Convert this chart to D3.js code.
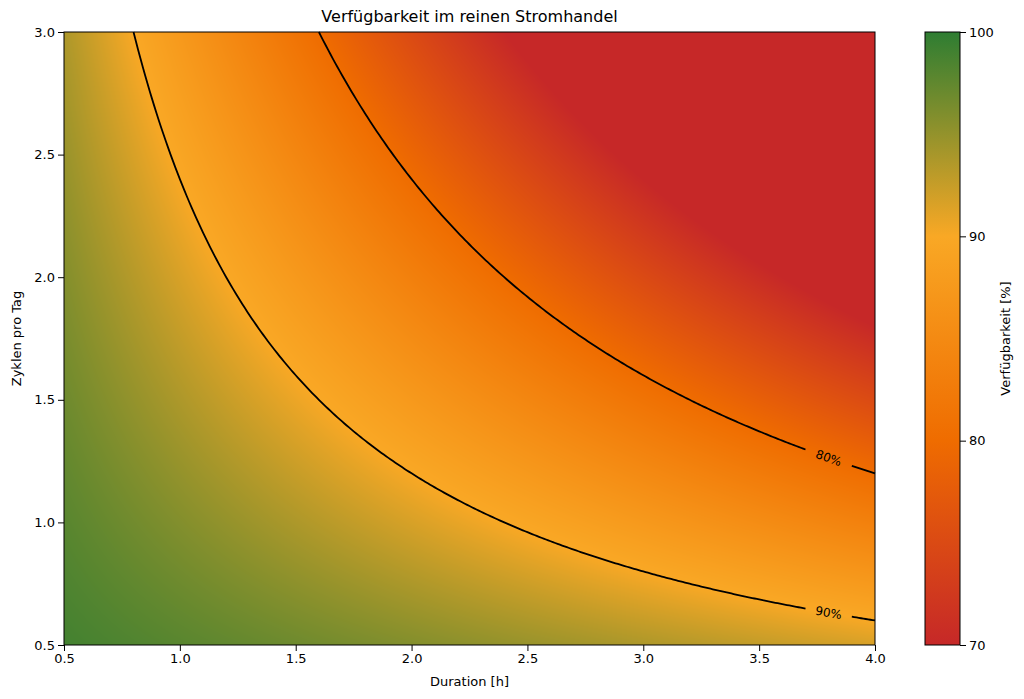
<!DOCTYPE html>
<html><head><meta charset="utf-8">
<script src="https://cdn.jsdelivr.net/npm/d3@7"></script>
<style>body{margin:0;background:#fff}text{font-family:"DejaVu Sans",sans-serif}</style>
</head><body><svg id="c" width="1024" height="699"></svg>
<script>
// values
var durationDomain = [0.5, 4.0];
var cyclesDomain = [0.5, 3.0];
var xTicks = [0.5,1.0,1.5,2.0,2.5,3.0,3.5,4.0];
var yTicks = [0.5,1.0,1.5,2.0,2.5,3.0];
var cbTicks = [70,80,90,100];
var colorStops = [70,80,90,100];
var colorValues = ["#c62828","#ef6c00","#f9a825","#2e7d32"];
var contourLevels = [90,80];
var contourLabelAt = [3.8,3.8];
// availability drops ~10 percentage points per 2.4 h·cycles
var lossPerHourCycle = 10/2.4;
function avail(d,c){ return 100 - lossPerHourCycle*d*c; }

var svg = d3.select("#c");
var m = {l:64, r:875, t:32, b:645};
var x = d3.scaleLinear().domain(durationDomain).range([m.l,m.r]);
var y = d3.scaleLinear().domain(cyclesDomain).range([m.b,m.t]);
var color = d3.scaleLinear().domain(colorStops).range(colorValues).clamp(true);

// heatmap
var W = m.r-m.l, H = m.b-m.t;
var cv = document.createElement("canvas"); cv.width=W; cv.height=H;
var ctx = cv.getContext("2d"), img = ctx.createImageData(W,H);
for (var j=0;j<H;j++) for (var i=0;i<W;i++){
  var col = d3.rgb(color(avail(x.invert(m.l+i+0.5), y.invert(m.t+j+0.5))));
  var k=(j*W+i)*4; img.data[k]=col.r; img.data[k+1]=col.g; img.data[k+2]=col.b; img.data[k+3]=255;
}
ctx.putImageData(img,0,0);
svg.append("image").attr("x",m.l).attr("y",m.t).attr("width",W).attr("height",H).attr("href",cv.toDataURL());

// contours
contourLevels.forEach(function(lv,n){
  var prod = (100-lv)/lossPerHourCycle;
  var lx = contourLabelAt[n];
  var gap = 0.1;
  var segs = [d3.range(prod/3,lx-gap,0.01), d3.range(lx+gap,4.0001,0.01)];
  segs.forEach(function(s){
    if (n===0||true) s.push(s===segs[0]?lx-gap:4.0);
    svg.append("path").attr("fill","none").attr("stroke","#000").attr("stroke-width",1.8)
      .attr("d", d3.line().x(function(d){return x(d);}).y(function(d){return y(prod/d);})(s));
  });
  var px=x(lx), py=y(prod/lx);
  var ang = Math.atan2(y(prod/(lx+0.01))-py, x(lx+0.01)-px)*180/Math.PI;
  svg.append("text").attr("transform","translate("+px+","+py+") rotate("+ang+")")
    .attr("text-anchor","middle").attr("dy","0.35em").attr("font-size",12).text(lv+"%");
});

// axes
var gx = svg.append("g").attr("transform","translate(0,"+m.b+")")
  .call(d3.axisBottom(x).tickValues(xTicks).tickFormat(d3.format(".1f")).tickSizeOuter(0));
var gy = svg.append("g").attr("transform","translate("+m.l+",0)")
  .call(d3.axisLeft(y).tickValues(yTicks).tickFormat(d3.format(".1f")).tickSizeOuter(0));
[gx,gy].forEach(function(g){ g.selectAll("text").attr("font-size",13).attr("fill","#000"); g.select(".domain").remove(); });
svg.append("rect").attr("x",m.l).attr("y",m.t).attr("width",W).attr("height",H).attr("fill","none").attr("stroke","#000");
svg.append("text").attr("x",(m.l+m.r)/2).attr("y",22).attr("text-anchor","middle").attr("font-size",16).text("Verfügbarkeit im reinen Stromhandel");
svg.append("text").attr("x",(m.l+m.r)/2).attr("y",686).attr("text-anchor","middle").attr("font-size",13).text("Duration [h]");
svg.append("text").attr("transform","translate(21,"+((m.t+m.b)/2)+") rotate(-90)").attr("text-anchor","middle").attr("font-size",13).text("Zyklen pro Tag");

// colorbar
var cb = {l:925, w:35};
var cy = d3.scaleLinear().domain([70,100]).range([m.b,m.t]);
var grad = svg.append("defs").append("linearGradient").attr("id","g").attr("x1",0).attr("y1",1).attr("x2",0).attr("y2",0);
colorStops.forEach(function(s,i){ grad.append("stop").attr("offset",(s-70)/30).attr("stop-color",colorValues[i]); });
svg.append("rect").attr("x",cb.l).attr("y",m.t).attr("width",cb.w).attr("height",H).attr("fill","url(#g)").attr("stroke","#000");
var gc = svg.append("g").attr("transform","translate("+(cb.l+cb.w)+",0)").call(d3.axisRight(cy).tickValues(cbTicks).tickSizeOuter(0));
gc.select(".domain").remove(); gc.selectAll("text").attr("font-size",13).attr("fill","#000");
svg.append("text").attr("transform","translate(1010,"+((m.t+m.b)/2)+") rotate(-90)").attr("text-anchor","middle").attr("font-size",13).text("Verfügbarkeit [%]");
</script></body></html>
